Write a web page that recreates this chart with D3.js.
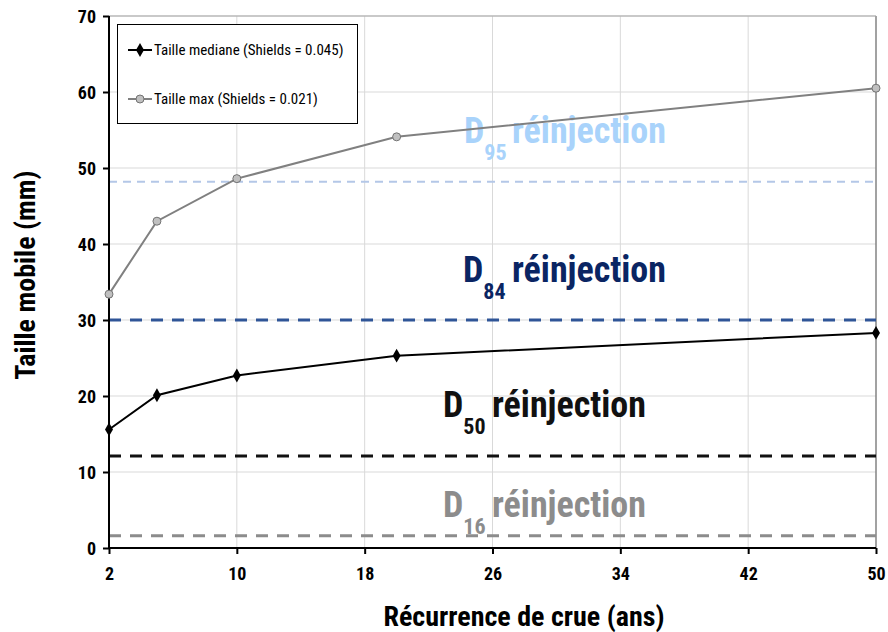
<!DOCTYPE html>
<html><head><meta charset="utf-8">
<script src="https://cdn.jsdelivr.net/npm/d3@7"></script>
<style>
body{margin:0;background:#fff;}
text{font-family:"Liberation Sans Narrow","Arial Narrow","Roboto Condensed","Liberation Sans",Arial,sans-serif;}
</style></head>
<body><svg id="c" width="888" height="632"></svg>
<script>
const recurrence = [2, 5, 10, 20, 50];
const tailleMediane = [15.6, 20.1, 22.7, 25.3, 28.3];
const tailleMax = [33.4, 43.0, 48.6, 54.1, 60.5];
const xTicks = [2, 10, 18, 26, 34, 42, 50];
const yTicks = [0, 10, 20, 30, 40, 50, 60, 70];
const refNames = ["95", "84", "50", "16"];
const refValues = [48.2, 30.0, 12.1, 1.6];
const refLabelY = [53.3, 35.0, 17.2, 4.1];
const refColors = ["#b4c7e7", "#2f5597", "#111111", "#8c8c8c"];
const refTextColors = ["#a9d3fb", "#0a2563", "#111111", "#8c8c8c"];
const refWidths = [2, 3, 3, 3];
const refLabelX = [464, 463, 443, 443];
const refWordX = [512, 512, 492, 492];
const legendLabels = ["Taille mediane (Shields = 0.045)", "Taille max (Shields = 0.021)"];

const svg = d3.select("#c");
const L = 109, R = 876, T = 16, B = 548;
const x = d3.scaleLinear().domain([2, 50]).range([L, R]);
const y = d3.scaleLinear().domain([0, 70]).range([B, T]);

// grid
svg.append("g").selectAll("line").data(yTicks.slice(1)).join("line")
  .attr("x1", L).attr("x2", R).attr("y1", d => y(d)).attr("y2", d => y(d))
  .attr("stroke", "#d9d9d9").attr("stroke-width", 1);
svg.append("g").selectAll("line").data(xTicks.slice(1)).join("line")
  .attr("y1", T).attr("y2", B).attr("x1", d => x(d)).attr("x2", d => x(d))
  .attr("stroke", "#d9d9d9").attr("stroke-width", 1);
svg.append("line").attr("x1", R).attr("x2", R).attr("y1", T).attr("y2", B).attr("stroke", "#595959").attr("stroke-width", 1);
svg.append("line").attr("x1", L).attr("x2", R).attr("y1", T).attr("y2", T).attr("stroke", "#a6a6a6").attr("stroke-width", 1);

// reference dashed lines
svg.append("g").selectAll("line").data(refValues).join("line")
  .attr("x1", L).attr("x2", R).attr("y1", d => y(d)).attr("y2", d => y(d))
  .attr("stroke", (d, i) => refColors[i]).attr("stroke-width", (d, i) => refWidths[i])
  .attr("stroke-dasharray", (d, i) => i === 0 ? "8,6" : "12,9");

// reference labels
const lab = svg.append("g").selectAll("text").data(refNames).join("text")
  .attr("y", (d, i) => y(refLabelY[i]))
  .attr("fill", (d, i) => refTextColors[i])
  .attr("font-weight", "bold").attr("font-size", 36);
lab.append("tspan").attr("x", (d, i) => refLabelX[i]).text("D");
lab.append("tspan").attr("font-size", 22).attr("dy", 17).text(d => d);
lab.append("tspan").attr("x", (d, i) => refWordX[i]).attr("dy", -17).text("réinjection");

// axes
const yAxis = d3.axisLeft(y).tickValues(yTicks).tickSize(6).tickPadding(7);
const gy = svg.append("g").attr("transform", `translate(${L},0)`).call(yAxis);
const xAxis = d3.axisBottom(x).tickValues(xTicks).tickSize(6).tickPadding(8);
const gx = svg.append("g").attr("transform", `translate(0,${B})`).call(xAxis);
[gy, gx].forEach(g => {
  g.select(".domain").attr("stroke", "#000").attr("stroke-width", 2);
  g.selectAll(".tick line").attr("stroke", "#000").attr("stroke-width", 2);
  g.selectAll(".tick text").attr("font-size", 18).attr("font-weight", "bold").attr("fill", "#000")
    .attr("font-family", "'Liberation Sans Narrow','Arial Narrow',sans-serif");
});
gx.select(".domain").attr("d", `M${L},0H${R}`);
gy.select(".domain").attr("d", `M0,${T}V${B}`);
gy.selectAll(".tick text").attr("dy", "0.35em");
gx.selectAll(".tick text").attr("y", 32).attr("dy", 0);

// series
const lineGen = d3.line().x((d, i) => x(recurrence[i])).y(d => y(d));
svg.append("path").datum(tailleMax).attr("d", lineGen).attr("fill", "none").attr("stroke", "#808080").attr("stroke-width", 2);
svg.append("path").datum(tailleMediane).attr("d", lineGen).attr("fill", "none").attr("stroke", "#000").attr("stroke-width", 2);
svg.append("g").selectAll("circle").data(tailleMax).join("circle")
  .attr("cx", (d, i) => x(recurrence[i])).attr("cy", d => y(d)).attr("r", 4)
  .attr("fill", "#c0c0c0").attr("stroke", "#737373").attr("stroke-width", 1);
const diamond = d3.symbol().type(d3.symbolDiamond).size(55);
svg.append("g").selectAll("path").data(tailleMediane).join("path")
  .attr("d", diamond).attr("transform", (d, i) => `translate(${x(recurrence[i])},${y(d)})`)
  .attr("fill", "#000");

// legend
const lg = svg.append("g");
lg.append("rect").attr("x", 117.5).attr("y", 24.5).attr("width", 240).attr("height", 99)
  .attr("fill", "#fff").attr("stroke", "#000").attr("stroke-width", 1);
const ly = [50, 99];
lg.selectAll("line.l").data(legendLabels).join("line")
  .attr("x1", 128).attr("x2", 152).attr("y1", (d, i) => ly[i]).attr("y2", (d, i) => ly[i])
  .attr("stroke", (d, i) => i === 0 ? "#000" : "#808080").attr("stroke-width", 2);
lg.append("path").attr("d", diamond).attr("transform", `translate(140,${ly[0]})`).attr("fill", "#000");
lg.append("circle").attr("cx", 140).attr("cy", ly[1]).attr("r", 4).attr("fill", "#c0c0c0").attr("stroke", "#737373");
lg.selectAll("text").data(legendLabels).join("text")
  .attr("x", 154).attr("y", (d, i) => ly[i]).attr("dy", "0.35em")
  .attr("font-size", 15).attr("fill", "#000").text(d => d);

// titles
svg.append("text").attr("x", 524).attr("y", 626).attr("text-anchor", "middle")
  .attr("font-size", 28).attr("font-weight", "bold").text("Récurrence de crue (ans)");
svg.append("text").attr("transform", "translate(35,275) rotate(-90)").attr("text-anchor", "middle")
  .attr("font-size", 28).attr("font-weight", "bold").text("Taille mobile (mm)");
</script></body></html>
